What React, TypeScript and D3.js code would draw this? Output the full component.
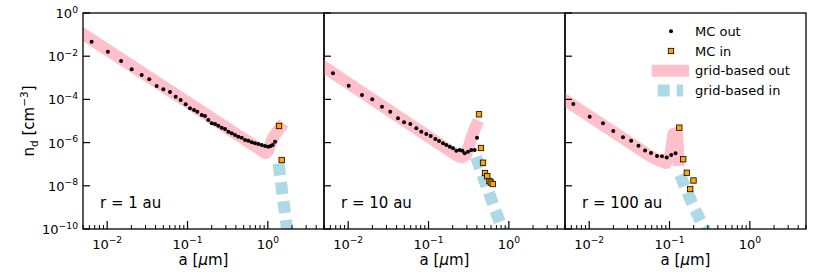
import React from 'react';
import * as d3 from 'd3';

// ---------- data ----------
const panelLabels = ['r = 1 au', 'r = 10 au', 'r = 100 au'];

// MC out (dots)
const mcOut1A = [0.0064, 0.0102, 0.0149, 0.0202, 0.0269, 0.0334, 0.0413, 0.05, 0.0605, 0.0713, 0.0822, 0.0948, 0.1074, 0.1205, 0.1325, 0.1503, 0.1652, 0.1816, 0.2, 0.22, 0.2415, 0.2666, 0.293, 0.322, 0.355, 0.39, 0.4285, 0.473, 0.52, 0.571, 0.63, 0.692, 0.76, 0.839, 0.923, 1.014, 1.086, 1.149, 1.228];
const mcOut1N = [0.0469, 0.01615, 0.006, 0.00248, 0.00135, 8.53e-4, 4.17e-4, 2.94e-4, 2.2e-4, 1.33e-4, 9.4e-5, 5.93e-5, 3.87e-5, 3.23e-5, 2.7e-5, 1.9e-5, 1.7e-5, 1.11e-5, 7.83e-6, 7.26e-6, 6.06e-6, 4.9e-6, 4.26e-6, 3.2e-6, 2.7e-6, 2.25e-6, 1.88e-6, 1.69e-6, 1.32e-6, 1.22e-6, 1.03e-6, 9.3e-7, 8.6e-7, 7.7e-7, 6.96e-7, 6.46e-7, 6.96e-7, 7.7e-7, 1.1e-6];
const mcOut2A = [0.00647, 0.01015, 0.01486, 0.01995, 0.02636, 0.0334, 0.0417, 0.0496, 0.0593, 0.0705, 0.0813, 0.0939, 0.1064, 0.1215, 0.1351, 0.1514, 0.1665, 0.1837, 0.2018, 0.2218, 0.2443, 0.2634, 0.2821, 0.3103, 0.3411, 0.3758, 0.4016];
const mcOut2N = [1.61e-3, 4.31e-4, 1.6e-4, 1.01e-4, 4.59e-5, 2.7e-5, 1.33e-5, 8.7e-6, 7.26e-6, 4.59e-6, 3.2e-6, 2.5e-6, 2.02e-6, 1.47e-6, 1.19e-6, 9.3e-7, 7.74e-7, 6.46e-7, 5.44e-7, 4.22e-7, 4.54e-7, 4.22e-7, 3.2e-7, 3.79e-7, 4.54e-7, 4.54e-7, 1.69e-6];
const mcOut3A = [0.00634, 0.01015, 0.01486, 0.01995, 0.02636, 0.0333, 0.0411, 0.0496, 0.0588, 0.0699, 0.0806, 0.0923, 0.105, 0.1187];
const mcOut3N = [6.12e-5, 1.58e-5, 7.83e-6, 3.44e-6, 1.76e-6, 1.22e-6, 7.18e-7, 4.31e-7, 3.3e-7, 2.4e-7, 2.32e-7, 2.04e-7, 2.67e-7, 3.2e-7];

// MC in (squares)
const mcIn1A = [1.377, 1.486];
const mcIn1N = [5.87e-6, 1.56e-7];
const mcIn2A = [0.425, 0.45, 0.477, 0.505, 0.539, 0.574, 0.596, 0.63];
const mcIn2N = [2.04e-5, 5.62e-7, 1.17e-7, 3.91e-8, 2.78e-8, 1.67e-8, 1.42e-8, 1.21e-8];
const mcIn3A = [0.1324, 0.1481, 0.1641, 0.1989, 0.181];
const mcIn3N = [4.9e-6, 1.7e-7, 4.0e-8, 1.76e-8, 7.11e-9];

// grid-based out (pink)
const gridOut1A = [0.005, 0.6, 0.754, 0.845, 0.948, 1.005, 1.094, 1.194, 1.417];
const gridOut1N = [0.107, 9.6e-7, 5.6e-7, 4.08e-7, 3.3e-7, 4.08e-7, 9.6e-7, 2.02e-6, 4.74e-6];
const gridOut2A = [0.005, 0.185, 0.2263, 0.261, 0.293, 0.319, 0.348, 0.39];
const gridOut2N = [3.16e-3, 4.08e-7, 2.53e-7, 2.04e-7, 2.67e-7, 6.96e-7, 2.02e-6, 5.87e-6];
const gridOut3A = [0.005, 0.054, 0.0719, 0.0904, 0.1035, 0.1115, 0.1239, 0.1275, 0.1294];
const gridOut3N = [9.38e-5, 2.72e-7, 1.56e-7, 1.14e-7, 3.2e-7, 2.5e-6, 2.78e-6, 4.54e-7, 1.56e-7];

// grid-based in (light blue, dashed)
const gridIn1A = [1.358, 1.732, 2.03];
const gridIn1N = [1.08e-7, 1e-10, 1e-12];
const gridIn2A = [0.39, 0.566, 0.822, 1.3];
const gridIn2N = [2.15e-7, 4.64e-9, 1.11e-10, 1e-12];
const gridIn3A = [0.135, 0.1905, 0.2767, 0.477];
const gridIn3N = [3.16e-8, 1.6e-9, 9e-11, 1e-12];

const xMajorTicks = [0.01, 0.1, 1];
const xMajorExp = ['\u22122', '\u22121', '0'];
const yMajorTicks = [1, 1e-2, 1e-4, 1e-6, 1e-8, 1e-10];
const yMajorExp = ['0', '\u22122', '\u22124', '\u22126', '\u22128', '\u221210'];
const legendLabels = ['MC out', 'MC in', 'grid-based out', 'grid-based in'];

// ---------- layout ----------
const W = 241;
const H = 216;
const TOP = 13;
const LEFTS = [83, 324, 565];
const FONT = 'DejaVu Sans, sans-serif';
const FS_TICK = 13;
const FS_SUP = 9.2;
const FS_LABEL = 15;
const FS_LABEL_SUP = 10.5;
const FS_LEG = 13;
const PINK = '#FFC0CB';
const BLUE = '#ADD8E6';
const ORANGE = '#FFA500';

const zip = (a: number[], n: number[]) => a.map((v, i) => [v, n[i]] as [number, number]);

const panels = [
  { out: zip(mcOut1A, mcOut1N), inn: zip(mcIn1A, mcIn1N), gOut: zip(gridOut1A, gridOut1N), gIn: zip(gridIn1A, gridIn1N) },
  { out: zip(mcOut2A, mcOut2N), inn: zip(mcIn2A, mcIn2N), gOut: zip(gridOut2A, gridOut2N), gIn: zip(gridIn2A, gridIn2N) },
  { out: zip(mcOut3A, mcOut3N), inn: zip(mcIn3A, mcIn3N), gOut: zip(gridOut3A, gridOut3N), gIn: zip(gridIn3A, gridIn3N) },
];

export default function App() {
  const x = d3.scaleLog().domain([0.005, 5]).range([0, W]);
  const y = d3.scaleLog().domain([1e-10, 1]).range([H, 0]);
  const line = d3.line<[number, number]>().x((d) => x(d[0])).y((d) => y(d[1]));

  const minorX: number[] = [];
  for (let e = -3; e <= 0; e++) {
    for (let k = 2; k <= 9; k++) {
      const v = k * Math.pow(10, e);
      if (v >= 0.005 && v < 5.0001) minorX.push(v);
    }
  }

  const sq = 5.4;
  const legendY = [31.3, 51, 70.7, 90.4];
  const lgX0 = 657.7;
  const lgX1 = 683;
  const lgMark = 671;
  const lgText = 695;

  return (
    <svg width={830} height={277} style={{ position: 'absolute', left: 0, top: 0 }} fontFamily={FONT}>
      <rect x={0} y={0} width={830} height={277} fill="white" />
      <defs>
        <clipPath id="plotclip">
          <rect x={0} y={0} width={W} height={H} />
        </clipPath>
      </defs>
      {panels.map((p, pi) => (
        <g key={pi} transform={`translate(${LEFTS[pi]},${TOP})`}>
          <g clipPath="url(#plotclip)">
            <path d={line(p.gOut) || ''} fill="none" stroke={PINK} strokeWidth={12} strokeLinecap="square" strokeLinejoin="round" />
            <path d={line(p.gIn) || ''} fill="none" stroke={BLUE} strokeWidth={12} strokeDasharray="12,7" strokeLinecap="butt" strokeLinejoin="round" />
            {p.out.map((d, i) => (
              <circle key={i} cx={x(d[0])} cy={y(d[1])} r={2} fill="black" />
            ))}
            {p.inn.map((d, i) => (
              <rect key={i} x={x(d[0]) - sq / 2} y={y(d[1]) - sq / 2} width={sq} height={sq} fill={ORANGE} stroke="black" strokeWidth={0.8} />
            ))}
          </g>
          {/* frame */}
          <rect x={0} y={0} width={W} height={H} fill="none" stroke="black" strokeWidth={1.3} />
          {/* x ticks */}
          {xMajorTicks.map((t, i) => (
            <g key={'xm' + i}>
              <line x1={x(t)} x2={x(t)} y1={H} y2={H - 8} stroke="black" strokeWidth={1.2} />
              <text x={x(t)} y={H + 19.5} textAnchor="middle" fontSize={FS_TICK}>
                10<tspan dy={-5.5} fontSize={FS_SUP}>{xMajorExp[i]}</tspan>
              </text>
            </g>
          ))}
          {minorX.map((t, i) => (
            <line key={'xn' + i} x1={x(t)} x2={x(t)} y1={H} y2={H - 4} stroke="black" strokeWidth={1} />
          ))}
          {/* y ticks */}
          {yMajorTicks.map((t, i) => (
            <g key={'ym' + i}>
              <line x1={0} x2={7} y1={y(t)} y2={y(t)} stroke="black" strokeWidth={1.2} />
              {pi === 0 && (
                <text x={-5} y={y(t) + 5} textAnchor="end" fontSize={FS_TICK}>
                  10<tspan dy={-5.5} fontSize={FS_SUP}>{yMajorExp[i]}</tspan>
                </text>
              )}
            </g>
          ))}
          <text x={17} y={195} fontSize={FS_LABEL}>{panelLabels[pi]}</text>
          <text x={W / 2} y={252} textAnchor="middle" fontSize={FS_LABEL}>
            a [<tspan fontStyle="italic">μ</tspan>m]
          </text>
        </g>
      ))}
      {/* y label */}
      <text transform={`translate(34,${TOP + H / 2}) rotate(-90)`} textAnchor="middle" fontSize={FS_LABEL}>
        n<tspan dy={3.5} fontSize={FS_LABEL_SUP}>d</tspan><tspan dy={-3.5}> [cm</tspan><tspan dy={-6} fontSize={FS_LABEL_SUP}>−3</tspan><tspan dy={6}>]</tspan>
      </text>
      {/* legend */}
      <g>
        <circle cx={lgMark} cy={legendY[0]} r={2} fill="black" />
        <rect x={lgMark - sq / 2} y={legendY[1] - sq / 2} width={sq} height={sq} fill={ORANGE} stroke="black" strokeWidth={0.8} />
        <line x1={lgX0} x2={lgX1} y1={legendY[2]} y2={legendY[2]} stroke={PINK} strokeWidth={12} strokeLinecap="square" />
        <line x1={lgX0} x2={lgX1} y1={legendY[3]} y2={legendY[3]} stroke={BLUE} strokeWidth={12} strokeDasharray="12,7" />
        {legendLabels.map((l, i) => (
          <text key={i} x={lgText} y={legendY[i] + 4.7} fontSize={FS_LEG}>{l}</text>
        ))}
      </g>
    </svg>
  );
}
